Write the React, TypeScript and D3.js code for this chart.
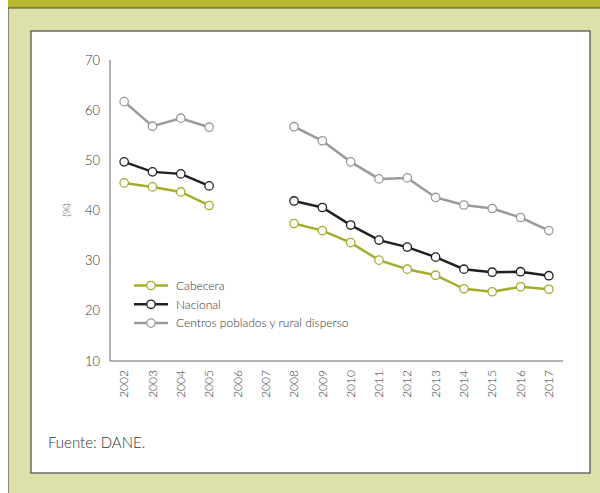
import React from "react";
import * as d3 from "d3";

const years = ["2002","2003","2004","2005","2006","2007","2008","2009","2010","2011","2012","2013","2014","2015","2016","2017"];
const cabecera: (number | null)[] = [45.5, 44.7, 43.7, 41.0, null, null, 37.4, 36.0, 33.6, 30.1, 28.3, 27.1, 24.4, 23.8, 24.8, 24.3];
const nacional: (number | null)[] = [49.7, 47.7, 47.3, 44.9, null, null, 41.9, 40.6, 37.1, 34.1, 32.7, 30.7, 28.3, 27.7, 27.8, 27.0];
const centros: (number | null)[] = [61.7, 56.8, 58.4, 56.6, null, null, 56.7, 53.9, 49.7, 46.3, 46.5, 42.6, 41.1, 40.4, 38.6, 36.0];
const yTicks = [10, 20, 30, 40, 50, 60, 70];
const seriesNames = ["Cabecera", "Nacional", "Centros poblados y rural disperso"];

const colors = ["#a4ad2b", "#231f20", "#9a9a9a"];
const FONT = "Lato, 'DejaVu Sans', sans-serif";

export default function App() {
  const W = 600, H = 493;
  const x = d3.scaleBand<string>().domain(years).range([110, 563]);
  const y = d3.scaleLinear().domain([10, 70]).range([361, 60]);
  const line = d3
    .line<number | null>()
    .defined((d) => d !== null)
    .x((_, i) => (x(years[i]) as number) + x.bandwidth() / 2)
    .y((d) => y(d as number));
  const all = [cabecera, nacional, centros];
  const order = [2, 1, 0];
  return (
    <svg width={W} height={H} style={{ position: "absolute", left: 0, top: 0 }} fontFamily={FONT} fontWeight={300}>
      <rect x={0} y={0} width={W} height={H} fill="#ffffff" />
      <rect x={8} y={0} width={W - 8} height={H} fill="#dde0ab" />
      <line x1={8.5} y1={0} x2={8.5} y2={H} stroke="#8a8a70" strokeWidth={1} />
      <rect x={8} y={0} width={W - 8} height={8} fill="#b4b92f" />
      <line x1={8} y1={8} x2={W} y2={8} stroke="#4d4b28" strokeWidth={1.2} />
      <rect x={31} y={31} width={559} height={442} fill="#ffffff" stroke="#555" strokeWidth={1.3} />

      <line x1={110} y1={y(70)} x2={110} y2={y(10)} stroke="#666" strokeWidth={1} />
      <line x1={110} y1={y(10)} x2={563} y2={y(10)} stroke="#666" strokeWidth={1} />
      {yTicks.map((t) => (
        <text key={t} x={100} y={y(t)} dy="0.35em" textAnchor="end" fontSize={13} fill="#333">
          {t}
        </text>
      ))}
      <text transform={`translate(66,${210}) rotate(-90)`} textAnchor="middle" fontSize={10.5} fill="#333" dy="0.35em">
        (%)
      </text>
      {years.map((yr) => (
        <text
          key={yr}
          transform={`translate(${(x(yr) as number) + x.bandwidth() / 2},370) rotate(-90)`}
          textAnchor="end"
          dy="0.35em"
          fontSize={12}
          fill="#333"
        >
          {yr}
        </text>
      ))}

      {order.map((si) => (
        <g key={si}>
          <path d={line(all[si]) || ""} fill="none" stroke={colors[si]} strokeWidth={2.5} />
          {all[si].map((v, i) =>
            v === null ? null : (
              <circle
                key={i}
                cx={(x(years[i]) as number) + x.bandwidth() / 2}
                cy={y(v)}
                r={4.2}
                fill="#fff"
                stroke={colors[si]}
                strokeWidth={1.3}
              />
            )
          )}
        </g>
      ))}

      {seriesNames.map((n, i) => {
        const ly = 285.5 + i * 18.8;
        return (
          <g key={n}>
            <line x1={134} y1={ly} x2={168} y2={ly} stroke={colors[i]} strokeWidth={2.5} />
            <circle cx={151} cy={ly} r={4.2} fill="#fff" stroke={colors[i]} strokeWidth={1.3} />
            <text x={176} y={ly} dy="0.35em" fontSize={12} fill="#333">
              {n}
            </text>
          </g>
        );
      })}

      <text x={48} y={448} fontSize={15} fill="#333">
        Fuente: DANE.
      </text>
    </svg>
  );
}
